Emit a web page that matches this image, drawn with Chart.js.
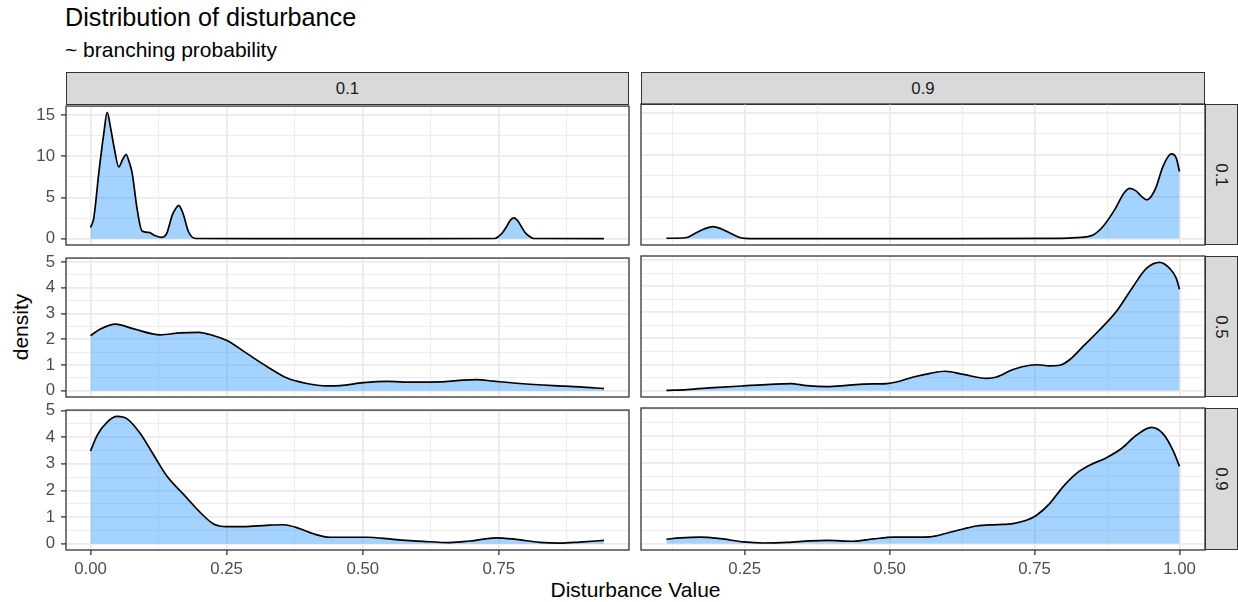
<!DOCTYPE html>
<html><head><meta charset="utf-8">
<script src="https://cdn.jsdelivr.net/npm/chart.js@4.4.1/dist/chart.umd.min.js"></script>
<style>
html,body{margin:0;padding:0;background:#fff;}
body{width:1238px;height:602px;position:relative;overflow:hidden;font-family:"Liberation Sans",Arial,sans-serif;}
.t{position:absolute;white-space:nowrap;line-height:1;}
canvas{position:absolute;}
.strip{position:absolute;background:#D9D9D9;border:1.3px solid #333;box-sizing:border-box;}
</style></head><body>
<div class="t" style="left:65px;top:5.4px;font-size:25.2px;color:#000;">Distribution of disturbance</div>
<div class="t" style="left:65px;top:38.9px;font-size:21px;color:#000;">~ branching probability</div>
<div class="t" style="left:20.3px;top:326.7px;font-size:21px;color:#000;transform:translate(-50%,-50%) rotate(-90deg);">density</div>
<div class="t" style="left:635.5px;top:579.2px;font-size:21px;color:#000;transform:translateX(-50%);">Disturbance Value</div>
<div id="root"></div>
<script>
// ---- facet labels ----
const colLabels = ['0.1', '0.9'];
const rowLabels = ['0.1', '0.5', '0.9'];

// ---- axis ticks ----
const xMajorCol = [[0, 0.25, 0.5, 0.75], [0.25, 0.5, 0.75, 1.0]];
const xTickLabelsCol = [['0.00', '0.25', '0.50', '0.75'], ['0.25', '0.50', '0.75', '1.00']];
const xMinorCol = [[0.125, 0.375, 0.625, 0.875], [0.125, 0.375, 0.625, 0.875]];
const xLimCol = [[-0.045, 0.989], [0.0712, 1.044]];

const yMajorRow = [[0, 5, 10, 15], [0, 1, 2, 3, 4, 5], [0, 1, 2, 3, 4, 5]];
const yTickLabelsRow = [['0', '5', '10', '15'], ['0', '1', '2', '3', '4', '5'], ['0', '1', '2', '3', '4', '5']];
const yMinorRow = [[2.5, 7.5, 12.5], [0.5, 1.5, 2.5, 3.5, 4.5], [0.5, 1.5, 2.5, 3.5, 4.5]];
const yLimRow = [[-0.765, 16.065], [-0.2455, 5.155], [-0.239, 5.019]];

// ---- density curves (x = disturbance value, y = density) ----
const r1c1X = [0, 0.006, 0.0153, 0.0245, 0.0306, 0.037, 0.043, 0.052, 0.059, 0.0654, 0.071, 0.0764, 0.0856, 0.0948, 0.107, 0.119, 0.131, 0.140, 0.150, 0.156, 0.162, 0.1665, 0.171, 0.180, 0.193, 0.30, 0.45, 0.60, 0.742, 0.749, 0.7565, 0.764, 0.770, 0.7775, 0.785, 0.7915, 0.7985, 0.807, 0.814, 0.943];
const r1c1Y = [1.35, 2.5, 8.0, 12.8, 15.3, 13.4, 11.2, 8.7, 9.6, 10.2, 9.3, 8.0, 3.6, 0.92, 0.76, 0.36, 0.17, 0.64, 2.83, 3.6, 4.03, 3.6, 2.83, 0.84, 0.02, 0, 0, 0, 0.02, 0.25, 0.72, 1.44, 2.14, 2.51, 2.14, 1.44, 0.72, 0.25, 0.02, 0];

const r1c2X = [0.115, 0.148, 0.165, 0.18, 0.1956, 0.21, 0.2254, 0.243, 0.26, 0.5, 0.7965, 0.822, 0.851, 0.868, 0.888, 0.905, 0.914, 0.925, 0.935, 0.944, 0.952, 0.960, 0.9714, 0.986, 0.9945, 1.0];
const r1c2Y = [0.04, 0.1, 0.64, 1.15, 1.44, 1.15, 0.64, 0.1, 0.0, 0, 0.02, 0.12, 0.44, 1.44, 3.43, 5.5, 6.0, 5.7, 5.0, 4.63, 5.1, 6.2, 8.6, 10.1, 9.6, 8.0];

const r2c1X = [0, 0.0183, 0.0458, 0.0795, 0.128, 0.165, 0.1986, 0.226, 0.2507, 0.287, 0.324, 0.361, 0.397, 0.434, 0.4585, 0.501, 0.544, 0.593, 0.642, 0.6785, 0.709, 0.7396, 0.7886, 0.85, 0.8986, 0.943];
const r2c1Y = [2.14, 2.40, 2.59, 2.40, 2.17, 2.25, 2.27, 2.14, 1.95, 1.45, 0.94, 0.49, 0.28, 0.19, 0.20, 0.31, 0.36, 0.33, 0.34, 0.40, 0.43, 0.37, 0.28, 0.20, 0.15, 0.08];

const r2c2X = [0.115, 0.151, 0.197, 0.248, 0.294, 0.329, 0.357, 0.392, 0.426, 0.455, 0.495, 0.512, 0.541, 0.570, 0.5956, 0.627, 0.667, 0.6846, 0.713, 0.742, 0.755, 0.775, 0.7935, 0.811, 0.834, 0.8624, 0.891, 0.9198, 0.943, 0.9657, 0.983, 0.9945, 1.0];
const r2c2Y = [0.01, 0.04, 0.11, 0.18, 0.24, 0.27, 0.19, 0.15, 0.2, 0.25, 0.27, 0.33, 0.52, 0.66, 0.74, 0.62, 0.47, 0.52, 0.81, 0.97, 0.99, 0.95, 0.97, 1.19, 1.70, 2.33, 3.03, 3.98, 4.68, 4.91, 4.68, 4.30, 3.88];

const r3c1X = [0, 0.0122, 0.0306, 0.049, 0.0673, 0.0917, 0.116, 0.1406, 0.171, 0.2017, 0.226, 0.2507, 0.281, 0.324, 0.3545, 0.385, 0.4096, 0.44, 0.4768, 0.5074, 0.556, 0.611, 0.660, 0.697, 0.7458, 0.782, 0.825, 0.862, 0.8986, 0.943];
const r3c1Y = [3.48, 4.07, 4.57, 4.78, 4.69, 4.13, 3.33, 2.53, 1.85, 1.17, 0.74, 0.64, 0.64, 0.69, 0.71, 0.56, 0.37, 0.24, 0.24, 0.24, 0.16, 0.085, 0.04, 0.1, 0.22, 0.16, 0.05, 0.02, 0.06, 0.12];

const r3c2X = [0.115, 0.139, 0.1737, 0.2087, 0.248, 0.283, 0.323, 0.363, 0.392, 0.4377, 0.472, 0.5065, 0.541, 0.5697, 0.598, 0.627, 0.650, 0.6846, 0.713, 0.736, 0.7535, 0.776, 0.799, 0.822, 0.845, 0.874, 0.90, 0.9256, 0.9515, 0.9714, 0.9886, 1.0];
const r3c2Y = [0.16, 0.21, 0.24, 0.18, 0.06, 0.02, 0.04, 0.1, 0.12, 0.085, 0.17, 0.24, 0.24, 0.25, 0.38, 0.54, 0.65, 0.70, 0.74, 0.86, 1.05, 1.48, 2.1, 2.59, 2.9, 3.18, 3.52, 4.01, 4.30, 4.07, 3.46, 2.86];

const curves = [
  [[r1c1X, r1c1Y], [r1c2X, r1c2Y]],
  [[r2c1X, r2c1Y], [r2c2X, r2c2Y]],
  [[r3c1X, r3c1Y], [r3c2X, r3c2Y]]
];

// ---- layout ----
const colBox = [{l: 66, w: 563}, {l: 641, w: 564}];
const rowBox = [{t: 104, h: 141}, {t: 256, h: 141}, {t: 408, h: 142}];
const PADL = 60, PADT = 14, PADR = 14, PADB = 46;
const FONT = '"Liberation Sans", Arial, sans-serif';
const TICKSIZE = 16.8;

const borderPlugin = {
  id: 'panelBorder',
  afterDraw(chart) {
    const {ctx, chartArea: a} = chart;
    ctx.save();
    ctx.strokeStyle = '#333333';
    ctx.lineWidth = 1.3;
    ctx.strokeRect(a.left, a.top, a.right - a.left, a.bottom - a.top);
    ctx.restore();
  }
};

function makeStrip(left, top, w, h, text, rotate) {
  const d = document.createElement('div');
  d.className = 'strip';
  d.style.cssText = `left:${left}px;top:${top}px;width:${w}px;height:${h}px;`;
  document.body.appendChild(d);
  const s = document.createElement('div');
  s.className = 't';
  s.textContent = text;
  s.style.fontSize = TICKSIZE + 'px';
  s.style.color = '#1A1A1A';
  if (rotate) {
    s.style.left = (left + w / 2 - 0.3) + 'px';
    s.style.top = (top + h / 2) + 'px';
    s.style.transform = 'translate(-50%,-50%) rotate(90deg)';
  } else {
    s.style.left = (left + w / 2) + 'px';
    s.style.top = (95 - 0.8465 * TICKSIZE) + 'px';
    s.style.transform = 'translateX(-50%)';
  }
  document.body.appendChild(s);
}

colLabels.forEach((lab, c) => makeStrip(colBox[c].l, 72, colBox[c].w, 33, lab, false));
rowLabels.forEach((lab, r) => makeStrip(1205, rowBox[r].t, 33, rowBox[r].h, lab, true));

function near(arr, v) { return arr.findIndex(a => Math.abs(a - v) < 1e-9); }

for (let r = 0; r < 3; r++) {
  for (let c = 0; c < 2; c++) {
    const P = {l: colBox[c].l, w: colBox[c].w, t: rowBox[r].t, h: rowBox[r].h};
    const cv = document.createElement('canvas');
    cv.width = P.w + PADL + PADR;
    cv.height = P.h + PADT + PADB;
    cv.style.left = (P.l - PADL) + 'px';
    cv.style.top = (P.t - PADT) + 'px';
    cv.style.width = cv.width + 'px';
    cv.style.height = cv.height + 'px';
    document.body.appendChild(cv);

    const [xs, ys] = curves[r][c];
    const xMaj = xMajorCol[c], xMin = xMinorCol[c];
    const yMaj = yMajorRow[r], yMin = yMinorRow[r];
    const showX = (r === 2), showY = (c === 0);

    new Chart(cv, {
      type: 'line',
      data: {
        datasets: [{
          data: xs.map((x, i) => ({x: x, y: ys[i]})),
          borderColor: '#000000',
          borderWidth: 1.7,
          backgroundColor: 'rgba(30,144,255,0.4)',
          fill: 'origin',
          pointRadius: 0,
          cubicInterpolationMode: 'monotone'
        }]
      },
      options: {
        responsive: false,
        animation: false,
        devicePixelRatio: 1,
        events: [],
        layout: {padding: {left: 0, top: PADT, right: PADR, bottom: 0}},
        plugins: {legend: {display: false}, tooltip: {enabled: false}, title: {display: false}},
        scales: {
          x: {
            type: 'linear',
            min: xLimCol[c][0], max: xLimCol[c][1],
            afterBuildTicks: s => { s.ticks = xMaj.concat(xMin).sort((a, b) => a - b).map(v => ({value: v})); },
            afterFit: s => { s.height = PADB; },
            border: {display: false},
            grid: {
              color: '#EBEBEB',
              lineWidth: ctx => near(xMaj, ctx.tick.value) >= 0 ? 1.8 : 0.9,
              drawTicks: showX,
              tickLength: 5,
              tickWidth: 1.3,
              tickColor: ctx => near(xMaj, ctx.tick.value) >= 0 ? '#333333' : 'rgba(0,0,0,0)'
            },
            ticks: {
              display: showX,
              autoSkip: false,
              maxRotation: 0,
              padding: 4,
              color: '#4D4D4D',
              font: {family: FONT, size: TICKSIZE},
              callback: v => { const i = near(xMaj, v); return i >= 0 ? xTickLabelsCol[c][i] : ''; }
            }
          },
          y: {
            type: 'linear',
            min: yLimRow[r][0], max: yLimRow[r][1],
            afterBuildTicks: s => { s.ticks = yMaj.concat(yMin).sort((a, b) => a - b).map(v => ({value: v})); },
            afterFit: s => { s.width = PADL; },
            border: {display: false},
            grid: {
              color: '#EBEBEB',
              lineWidth: ctx => near(yMaj, ctx.tick.value) >= 0 ? 1.8 : 0.9,
              drawTicks: showY,
              tickLength: 5,
              tickWidth: 1.3,
              tickColor: ctx => near(yMaj, ctx.tick.value) >= 0 ? '#333333' : 'rgba(0,0,0,0)'
            },
            ticks: {
              display: showY,
              autoSkip: false,
              padding: 6,
              color: '#4D4D4D',
              font: {family: FONT, size: TICKSIZE},
              callback: v => { const i = near(yMaj, v); return i >= 0 ? yTickLabelsRow[r][i] : ''; }
            }
          }
        }
      },
      plugins: [borderPlugin]
    });
  }
}
</script>
</body></html>
